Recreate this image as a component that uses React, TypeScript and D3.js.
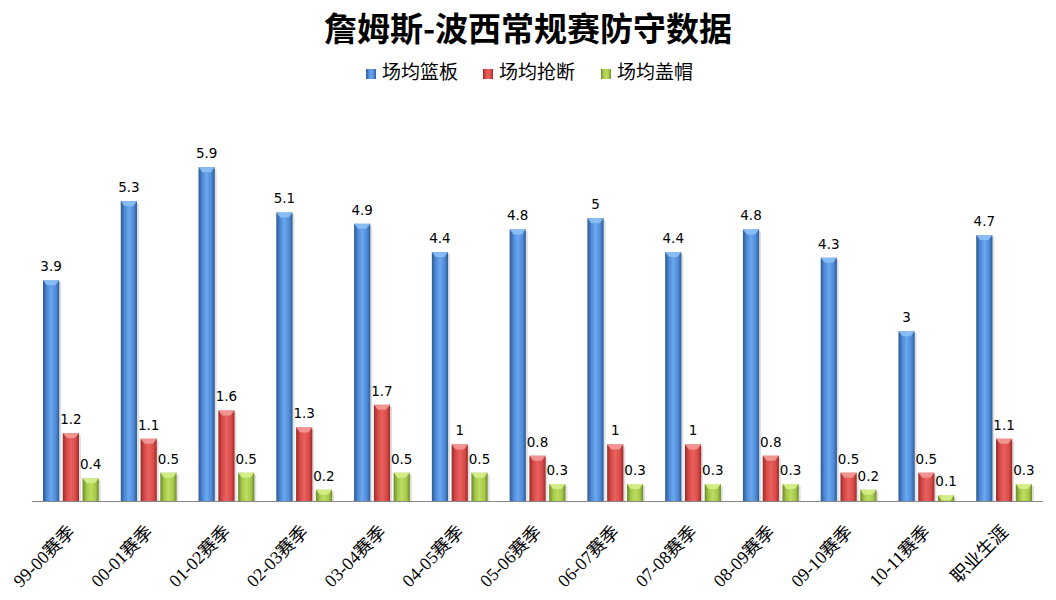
import React from "react";
import * as d3 from "d3";

const categories = ["99-00赛季","00-01赛季","01-02赛季","02-03赛季","03-04赛季","04-05赛季","05-06赛季","06-07赛季","07-08赛季","08-09赛季","09-10赛季","10-11赛季","职业生涯"];
const seriesNames = ["场均篮板","场均抢断","场均盖帽"];
const rebounds = [3.9,5.3,5.9,5.1,4.9,4.4,4.8,5,4.4,4.8,4.3,3,4.7];
const steals = [1.2,1.1,1.6,1.3,1.7,1,0.8,1,1,0.8,0.5,0.5,1.1];
const blocks = [0.4,0.5,0.5,0.2,0.5,0.5,0.3,0.3,0.3,0.3,0.2,0.1,0.3];

const seriesValues = [rebounds, steals, blocks];
const palette = [
  { dark: "#2c5a96", mid: "#4f8ad6", light: "#6aa8ef", top: "#8cc0f5" },
  { dark: "#9a2b29", mid: "#d94a47", light: "#e8625f", top: "#f29a98" },
  { dark: "#6d8a2a", mid: "#a5c94a", light: "#bcdc62", top: "#d6ef8c" },
];

const W = 1056, H = 600;
const left = 32, right = 1043, baseY = 501, topY = 105;

export default function App() {
  const x0 = d3.scaleBand<string>().domain(categories).range([left, right]).paddingInner(0).paddingOuter(0);
  const x1 = d3.scaleBand<number>().domain([0, 1, 2]).range([11, x0.bandwidth() - 11]).paddingInner(0.18);
  const y = d3.scaleLinear().domain([0, 7]).range([baseY, topY]);
  const bw = x1.bandwidth();

  return (
    <svg width={W} height={H} style={{ position: "absolute", left: 0, top: 0, background: "#fff" }}>
      <defs>
        {palette.map((p, i) => (
          <linearGradient key={i} id={`g${i}`} x1="0" x2="1" y1="0" y2="0">
            <stop offset="0" stopColor={p.dark} />
            <stop offset="0.25" stopColor={p.mid} />
            <stop offset="0.5" stopColor={p.light} />
            <stop offset="0.8" stopColor={p.mid} />
            <stop offset="1" stopColor={p.dark} />
          </linearGradient>
        ))}
      </defs>
      <text x={528} y={41} textAnchor="middle" fontFamily="'Noto Sans CJK SC', sans-serif" fontWeight="bold" fontSize={33} fill="#000">
        詹姆斯-波西常规赛防守数据
      </text>
      {seriesNames.map((n, i) => {
        const lx = [366, 483, 601][i];
        return (
          <g key={n}>
            <rect x={lx} y={69} width={10} height={10} fill={`url(#g${i})`} />
            <text x={lx + 16} y={79} fontFamily="'Noto Sans CJK SC', sans-serif" fontSize={19} fill="#000">{n}</text>
          </g>
        );
      })}
      {categories.map((c, ci) => (
        <g key={c} transform={`translate(${x0(c)},0)`}>
          {seriesValues.map((vals, si) => {
            const v = vals[ci];
            const bx = x1(si)!;
            const ty = y(v);
            const h = baseY - ty;
            const p = palette[si];
            const bev = Math.min(5, h);
            return (
              <g key={si}>
                <rect x={bx + 2} y={ty + 2} width={bw} height={h - 2} fill="#000" opacity={0.12} />
                <rect x={bx} y={ty} width={bw} height={h} fill={`url(#g${si})`} />
                <polygon points={`${bx},${ty} ${bx + bw},${ty} ${bx + bw - 4},${ty + bev} ${bx + 4},${ty + bev}`} fill={p.top} opacity={0.9} />
                <text x={bx + bw / 2} y={ty - 9} textAnchor="middle" fontFamily="'DejaVu Sans', sans-serif" fontSize={13.5} fill="#000">{String(v)}</text>
              </g>
            );
          })}
        </g>
      ))}
      <line x1={left} x2={right} y1={baseY + 0.5} y2={baseY + 0.5} stroke="#868686" strokeWidth={1} />
      {categories.map((c) => {
        const cx = x0(c)! + x0.bandwidth() / 2 + 5;
        return (
          <text key={c} transform={`translate(${cx},${533}) rotate(-45)`} textAnchor="end" fontFamily="'Liberation Serif', 'Noto Sans CJK SC', serif" fontSize={18} fill="#000">{c}</text>
        );
      })}
    </svg>
  );
}
